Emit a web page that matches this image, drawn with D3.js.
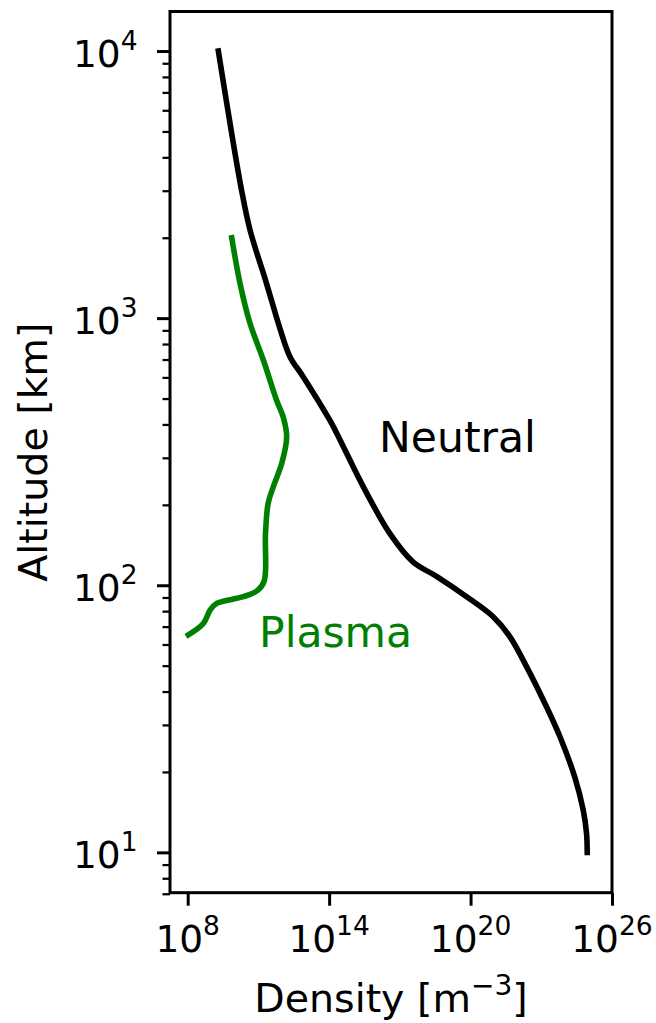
<!DOCTYPE html>
<html>
<head>
<meta charset="utf-8">
<script src="https://cdn.jsdelivr.net/npm/d3@7"></script>
<style>
  html, body { margin: 0; padding: 0; background: #fff; }
  svg { display: block; font-family: "DejaVu Sans", sans-serif; }
</style>
</head>
<body>
<div id="chart"></div>
<script>
// neutral atmosphere profile (altitude in km, density in m^-3)
const neutralAlt = [10000, 4900, 3000, 2140, 1350, 918, 716, 604, 415, 371, 234, 156, 122, 108, 90.6, 76.2, 64.1, 49.5, 35.1, 27.1, 19.2, 14.4, 11.8, 10]
const neutralDens = [2.0e9, 7.4e9, 1.95e10, 4.4e10, 2.2e11, 8.1e11, 2.2e12, 7.9e12, 1.07e14, 2.1e14, 2.8e15, 3.8e16, 3.7e17, 3.6e18, 6.8e19, 9.1e20, 4.7e21, 2.4e22, 1.66e23, 6.2e23, 2.6e24, 6.0e24, 8.3e24, 8.9e24]

// plasma profile
const plasmaAlt = [2000, 1350, 957, 697, 493, 427, 360, 286, 234, 203, 156, 104, 96, 90.6, 85.5, 80.7, 71.9, 65.2]
const plasmaDens = [7.4e9, 1.66e10, 4.4e10, 1.62e11, 5.9e11, 1.12e12, 1.58e12, 9.8e11, 4.3e11, 2.6e11, 2.0e11, 1.78e11, 9.8e10, 2.3e10, 1.7e9, 8.9e8, 4.6e8, 1.07e8]

const xTickExp = [8, 14, 20, 26]
const yTickExp = [1, 2, 3, 4]
const yMinor = [7, 8, 9, 20, 30, 40, 50, 60, 70, 80, 90, 200, 300, 400, 500, 600, 700, 800, 900, 2000, 3000, 4000, 5000, 6000, 7000, 8000, 9000]

const width = 656
const height = 1023
const margin = ({ top: 11.5, right: 44, bottom: 130.3, left: 170 })

const svg = d3.select("#chart").append("svg")
  .attr("width", width)
  .attr("height", height)
  .attr("viewBox", [0, 0, width, height])

const x = d3.scaleLog()
  .domain([Math.pow(10, 7.25), 1e26])
  .range([margin.left, width - margin.right])

const y = d3.scaleLog()
  .domain([Math.pow(10, 0.849), Math.pow(10, 4.148)])
  .range([height - margin.bottom, margin.top])

const toPoints = (alt, dens) => alt.map((a, i) => ({ alt: a, dens: dens[i] })).sort((p, q) => p.alt - q.alt)

const line = d3.line()
  .x(d => x(d.dens))
  .y(d => y(d.alt))
  .curve(d3.curveCatmullRom.alpha(0.5))

svg.append("defs").append("clipPath").attr("id", "clip")
  .append("rect")
  .attr("x", margin.left).attr("y", margin.top)
  .attr("width", width - margin.right - margin.left)
  .attr("height", height - margin.bottom - margin.top)

const plot = svg.append("g").attr("clip-path", "url(#clip)")

plot.append("path")
  .datum(toPoints(neutralAlt, neutralDens))
  .attr("fill", "none")
  .attr("stroke", "black")
  .attr("stroke-width", 5.6)
  .attr("stroke-linecap", "square")
  .attr("d", line)

plot.append("path")
  .datum(toPoints(plasmaAlt, plasmaDens))
  .attr("fill", "none")
  .attr("stroke", "green")
  .attr("stroke-width", 5.6)
  .attr("stroke-linecap", "square")
  .attr("d", line)

// axes
const xAxis = g => g
  .attr("transform", `translate(0,${height - margin.bottom})`)
  .call(d3.axisBottom(x).tickValues(xTickExp.map(e => Math.pow(10, e))).tickFormat("").tickSize(13).tickSizeOuter(0))
  .call(g => g.select(".domain").remove())
  .call(g => g.selectAll(".tick line").attr("stroke-width", 3))

const yAxis = g => g
  .attr("transform", `translate(${margin.left},0)`)
  .call(d3.axisLeft(y).tickValues(yTickExp.map(e => Math.pow(10, e))).tickFormat("").tickSize(13).tickSizeOuter(0))
  .call(g => g.select(".domain").remove())
  .call(g => g.selectAll(".tick line").attr("stroke-width", 3))

const yMinorAxis = g => g
  .attr("transform", `translate(${margin.left},0)`)
  .call(d3.axisLeft(y).tickValues(yMinor).tickFormat("").tickSize(7.5).tickSizeOuter(0))
  .call(g => g.select(".domain").remove())
  .call(g => g.selectAll(".tick line").attr("stroke-width", 2.25))

svg.append("g").call(xAxis)
svg.append("g").call(yAxis)
svg.append("g").call(yMinorAxis)

// tick labels as 10^n
const pow10 = (sel, e) => {
  sel.append("tspan").text("10")
  sel.append("tspan").attr("font-size", 26.5).attr("dy", -16.5).text(e)
}

xTickExp.forEach(e => {
  svg.append("text")
    .attr("x", x(Math.pow(10, e)))
    .attr("y", 951.7)
    .attr("text-anchor", "middle")
    .attr("font-size", 37.5)
    .call(pow10, e)
})

yTickExp.forEach(e => {
  svg.append("text")
    .attr("x", 137.5)
    .attr("y", y(Math.pow(10, e)) + 15.6)
    .attr("text-anchor", "end")
    .attr("font-size", 37.5)
    .call(pow10, e)
})

// spines
svg.append("rect")
  .attr("x", margin.left)
  .attr("y", margin.top)
  .attr("width", width - margin.right - margin.left)
  .attr("height", height - margin.bottom - margin.top)
  .attr("fill", "none")
  .attr("stroke", "black")
  .attr("stroke-width", 3)

// axis labels
const xl = svg.append("text")
  .attr("x", (margin.left + width - margin.right) / 2)
  .attr("y", 1012)
  .attr("text-anchor", "middle")
  .attr("font-size", 39.5)
xl.append("tspan").text("Density [m")
xl.append("tspan").attr("font-size", 28).attr("dy", -17).text("\u22123")
xl.append("tspan").attr("dy", 17).text("]")

svg.append("text")
  .attr("transform", `translate(47,${(margin.top + height - margin.bottom) / 2}) rotate(-90)`)
  .attr("text-anchor", "middle")
  .attr("font-size", 39.5)
  .text("Altitude [km]")

// curve labels
svg.append("text")
  .attr("x", 379)
  .attr("y", 452)
  .attr("font-size", 42.5)
  .attr("fill", "black")
  .text("Neutral")

svg.append("text")
  .attr("x", 259)
  .attr("y", 647)
  .attr("font-size", 42.5)
  .attr("fill", "green")
  .text("Plasma")
</script>
</body>
</html>
